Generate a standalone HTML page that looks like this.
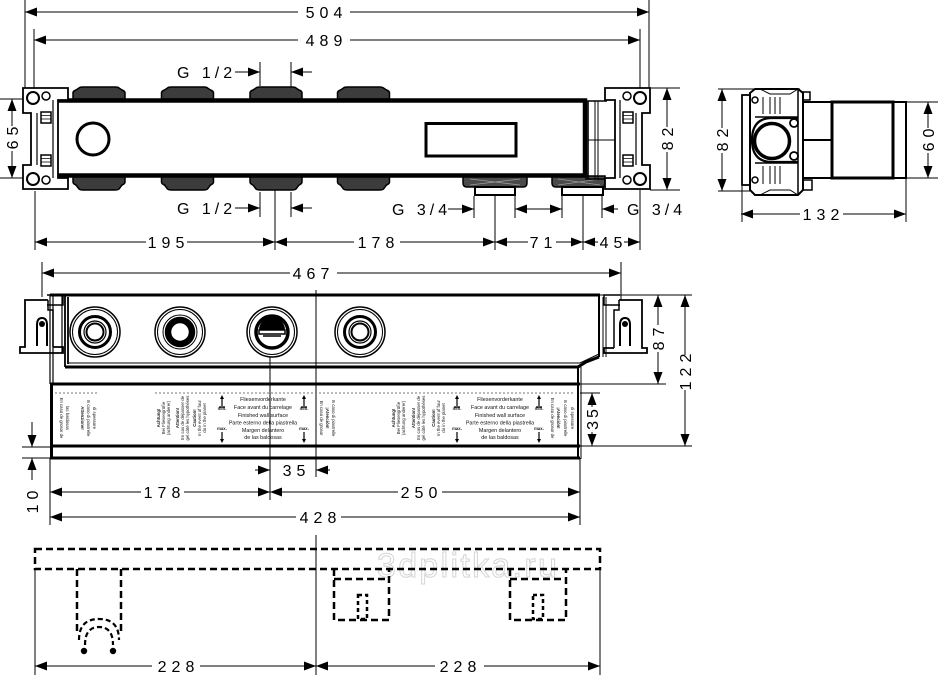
<!DOCTYPE html>
<html><head><meta charset="utf-8"><style>
html,body{margin:0;padding:0;background:#fff;}
svg{display:block;}
.t{font-family:"Liberation Sans",sans-serif;font-size:16px;letter-spacing:5px;fill:#000;}
.g{font-family:"Liberation Sans",sans-serif;font-size:16px;letter-spacing:4px;fill:#000;}
.s{font-family:"Liberation Sans",sans-serif;font-size:5.4px;fill:#111;text-anchor:middle;}
.r{font-family:"Liberation Sans",sans-serif;font-size:4.3px;fill:#222;text-anchor:middle;}
</style></head><body>
<svg width="939" height="675" viewBox="0 0 939 675" xmlns="http://www.w3.org/2000/svg">
<rect width="939" height="675" fill="#fff"/>

<!-- ===== dimension & extension lines ===== -->
<g stroke="#000" stroke-width="1" fill="none">
<!-- top dims -->
<path d="M25,12H298M350,12H649M34,40H298M350,40H640"/>
<path d="M25,0V88M649,0V88M34,29V88M640,29V88"/>
<path d="M235,72H260M291,72H312M235,208H260M291,208H312"/>
<path d="M260,62V86M291,62V87M260,192V217M291,192V217"/>
<path d="M35,242H146M187,242H275M275,242H354M400,242H495M495,242H528M556,242H583M583,242H598M624,242H640"/>
<path d="M35,191V250M275,190V250M495,196V250M583,196V250M640,190V250"/>
<path d="M448,209H474M515,209H562M602,209H618"/>
<path d="M474,196V218M515,196V218M562,196V218M602,196V218"/>
<path d="M667,88V127M667,152V190M650,88H680M650,190H680"/>
<path d="M12,99V126M12,151V178M0,99H23M0,178H23"/>
<!-- side view dims -->
<path d="M722,89V128M722,153V191M718,89H800M718,191H760"/>
<path d="M928,102V128M928,153V178M893,102H938M893,178H938"/>
<path d="M741,214H800M843,214H906M742,186V222M906,178V222"/>
<!-- front view dims -->
<path d="M42,273H290M337,273H621M42,262V297M621,262V300"/>
<path d="M600,295H692M580,384H666M580,446H692M580,393H600"/>
<path d="M658,295V325M658,352V384M685,295V355M685,390V446M592,393V407M592,432V446"/>
<path d="M22,447H52M22,458H52M32,422V447M32,458V480"/>
<path d="M255,470H270M316,470H330"/>
<path d="M50,492H141M184,492H270M270,492H398M442,492H580M50,517H296M341,517H580"/>
<path d="M50,458V525M580,458V525M270,357V500M316,290V477"/>
<!-- bottom view dims -->
<path d="M35,569V675M600,569V675M316,535V675"/>
<path d="M35,666H152M200,666H435M484,666H600"/>
</g>

<!-- arrowheads -->
<g fill="#000">
<polygon points="25,12 37,7.5 37,16.5"/><polygon points="649,12 637,7.5 637,16.5"/>
<polygon points="34,40 46,35.5 46,44.5"/><polygon points="640,40 628,35.5 628,44.5"/>
<polygon points="260,72 248,67.5 248,76.5"/><polygon points="291,72 303,67.5 303,76.5"/>
<polygon points="260,208 248,203.5 248,212.5"/><polygon points="291,208 303,203.5 303,212.5"/>
<polygon points="35,242 47,237.5 47,246.5"/><polygon points="275,242 263,237.5 263,246.5"/>
<polygon points="275,242 287,237.5 287,246.5"/><polygon points="495,242 483,237.5 483,246.5"/>
<polygon points="495,242 507,237.5 507,246.5"/><polygon points="583,242 571,237.5 571,246.5"/>
<polygon points="583,242 595,237.5 595,246.5"/><polygon points="640,242 628,237.5 628,246.5"/>
<polygon points="474,209 462,204.5 462,213.5"/><polygon points="515,209 527,204.5 527,213.5"/>
<polygon points="562,209 550,204.5 550,213.5"/><polygon points="602,209 614,204.5 614,213.5"/>
<polygon points="667,88 662.5,100 671.5,100"/><polygon points="667,190 662.5,178 671.5,178"/>
<polygon points="12,99 7.5,111 16.5,111"/><polygon points="12,178 7.5,166 16.5,166"/>
<polygon points="722,89 717.5,101 726.5,101"/><polygon points="722,191 717.5,179 726.5,179"/>
<polygon points="928,102 923.5,114 932.5,114"/><polygon points="928,178 923.5,166 932.5,166"/>
<polygon points="741,214 753,209.5 753,218.5"/><polygon points="906,214 894,209.5 894,218.5"/>
<polygon points="42,273 54,268.5 54,277.5"/><polygon points="621,273 609,268.5 609,277.5"/>
<polygon points="658,295 653.5,307 662.5,307"/><polygon points="658,384 653.5,372 662.5,372"/>
<polygon points="685,295 680.5,307 689.5,307"/><polygon points="685,446 680.5,434 689.5,434"/>
<polygon points="592,393 587.5,405 596.5,405"/><polygon points="592,446 587.5,434 596.5,434"/>
<polygon points="32,447 27.5,435 36.5,435"/><polygon points="32,458 27.5,470 36.5,470"/>
<polygon points="270,470 258,465.5 258,474.5"/><polygon points="316,470 328,465.5 328,474.5"/>
<polygon points="50,492 62,487.5 62,496.5"/><polygon points="270,492 258,487.5 258,496.5"/>
<polygon points="270,492 282,487.5 282,496.5"/><polygon points="580,492 568,487.5 568,496.5"/>
<polygon points="50,517 62,512.5 62,521.5"/><polygon points="580,517 568,512.5 568,521.5"/>
<polygon points="35,666 47,661.5 47,670.5"/><polygon points="316,666 304,661.5 304,670.5"/>
<polygon points="316,666 328,661.5 328,670.5"/><polygon points="600,666 588,661.5 588,670.5"/>
</g>

<!-- dimension texts -->
<g class="t" text-anchor="middle">
<text x="326.5" y="17.8">504</text>
<text x="326.5" y="45.8">489</text>
<text x="168.5" y="247.8">195</text>
<text x="378.5" y="247.8">178</text>
<text x="543.5" y="247.8">71</text>
<text x="613.5" y="247.8">45</text>
<text x="823.5" y="219.8">132</text>
<text x="313.5" y="278.8">467</text>
<text x="296.5" y="475.8">35</text>
<text x="164.5" y="497.8">178</text>
<text x="421.5" y="497.8">250</text>
<text x="320.5" y="522.8">428</text>
<text x="178.5" y="671.8">228</text>
<text x="460.5" y="671.8">228</text>
<text transform="translate(672.8,136.5) rotate(-90)">82</text>
<text transform="translate(17.8,135.5) rotate(-90)">65</text>
<text transform="translate(727.8,137.5) rotate(-90)">82</text>
<text transform="translate(933.8,137.5) rotate(-90)">60</text>
<text transform="translate(663.8,336.5) rotate(-90)">87</text>
<text transform="translate(690.8,369.5) rotate(-90)">122</text>
<text transform="translate(597.8,418) rotate(-90)" style="letter-spacing:3px">35</text>
<text transform="translate(37.8,499.5) rotate(-90)">10</text>
</g>
<g class="g">
<text x="177" y="77.8">G 1/2</text>
<text x="177" y="213.8">G 1/2</text>
<text x="392" y="214.8">G 3/4</text>
<text x="627" y="214.8">G 3/4</text>
</g>

<!-- ===== TOP VIEW ===== -->
<!-- top ports -->
<g fill="#3c3c3c" stroke="#000" stroke-width="1.5">
<path d="M73,99V93Q73,91 76,90L79,88Q80,87 83,87H115Q118,87 119,88L122,90Q125,91 125,93V99Z"/>
<path d="M161.5,99V93Q161.5,91 164.5,90L167.5,88Q168.5,87 171.5,87H203.5Q206.5,87 207.5,88L210.5,90Q213.5,91 213.5,93V99Z"/>
<path d="M250,99V93Q250,91 253,90L256,88Q257,87 260,87H292Q295,87 296,88L299,90Q302,91 302,93V99Z"/>
<path d="M337.5,99V93Q337.5,91 340.5,90L343.5,88Q344.5,87 347.5,87H379.5Q382.5,87 383.5,88L386.5,90Q389.5,91 389.5,93V99Z"/>
<!-- bottom ports -->
<path d="M73,176V182Q73,184 76,185L79,189Q80,190 83,190H115Q118,190 119,189L122,185Q125,184 125,182V176Z"/>
<path d="M161.5,176V182Q161.5,184 164.5,185L167.5,189Q168.5,190 171.5,190H203.5Q206.5,190 207.5,189L210.5,185Q213.5,184 213.5,182V176Z"/>
<path d="M250,176V182Q250,184 253,185L256,189Q257,190 260,190H292Q295,190 296,189L299,185Q302,184 302,182V176Z"/>
<path d="M337.5,176V182Q337.5,184 340.5,185L343.5,189Q344.5,190 347.5,190H379.5Q382.5,190 383.5,189L386.5,185Q389.5,184 389.5,182V176Z"/>
<path d="M463,176V183Q463,187 467,187H523Q527,187 527,183V176Z" fill="#4a4a4a"/>
<path d="M552,176V183Q552,187 556,187H601Q605,187 605,183V176Z" fill="#4a4a4a"/>
</g>
<g fill="#fff" stroke="#000" stroke-width="2">
<rect x="475" y="187" width="40" height="8"/>
<rect x="562" y="187" width="41" height="8"/>
</g>
<g stroke="#999" stroke-width="0.8">
<path d="M470,179L520,185M470,185L520,179M558,179L600,185M558,185L600,179"/>
</g>
<!-- body -->
<rect x="55" y="100.5" width="530" height="75" fill="#fff" stroke="#000" stroke-width="4.5"/>
<circle cx="93" cy="139" r="16" fill="none" stroke="#000" stroke-width="3"/>
<rect x="426" y="123.5" width="90" height="32.5" fill="none" stroke="#000" stroke-width="3"/>
<g stroke="#000" fill="none">
<path d="M588,101V179M585,101H607M585,179H607" stroke-width="1.6"/>
<path d="M595,101V180M598,101V180M588,140H617" stroke-width="1"/>
</g>
<!-- right bracket -->
<g stroke="#000" fill="#fff" stroke-width="1.8">
<path d="M605,88H650V113H642V165H650V189H605V178H615V100H605Z"/>
<path d="M23,88H68V100H58V178H68V189H23V165H31V113H23Z"/>
</g>
<g stroke="#000" fill="none">
<circle cx="640" cy="98" r="6" stroke-width="2"/><circle cx="627" cy="96" r="4" stroke-width="1.5"/>
<circle cx="640" cy="179" r="6" stroke-width="2"/><circle cx="627" cy="180" r="4" stroke-width="1.5"/>
<circle cx="33" cy="98" r="6" stroke-width="2"/><circle cx="46" cy="96" r="4" stroke-width="1.5"/>
<circle cx="33" cy="179" r="6" stroke-width="2"/><circle cx="46" cy="180" r="4" stroke-width="1.5"/>
<path d="M620,100V178M636,113V165M53,100V178M37,113V165" stroke-width="1.2"/>
<rect x="623" y="112" width="10" height="11" stroke-width="1.5"/><rect x="623" y="155" width="10" height="11" stroke-width="1.5"/>
<rect x="41" y="112" width="10" height="11" stroke-width="1.5"/><rect x="41" y="155" width="10" height="11" stroke-width="1.5"/>
<path d="M623,115.5H633M623,119H633M623,158.5H633M623,162H633M41,115.5H51M41,119H51M41,158.5H51M41,162H51" stroke-width="0.8"/>
</g>

<!-- ===== SIDE VIEW ===== -->
<g stroke="#000" fill="none">
<rect x="742" y="95" width="8" height="90" stroke-width="1.8"/>
<path d="M750,93L755,89H798L803,93V190L798,195H755L750,190Z" stroke-width="2" fill="#fff"/>
<path d="M798,90V195" stroke-width="1.5"/>
<path d="M755,117H798M755,163H798" stroke-width="1.5"/>
<path d="M798,118H772Q752,118 752,140Q752,162 772,162H798" stroke-width="2.2"/>
<circle cx="772" cy="141" r="17.5" stroke-width="3.5"/>
<circle cx="755" cy="100" r="3" stroke-width="1.5"/><circle cx="755" cy="180" r="3" stroke-width="1.5"/>
<circle cx="794" cy="123" r="4" stroke-width="1.8"/><circle cx="794" cy="156" r="4" stroke-width="1.8"/>
<path d="M763,97V114M770,97V114M775,97V114M763,166V184M770,166V184M775,166V184M780,97V114M780,166V184" stroke-width="1"/>
<path d="M760,89L770,94H790L798,89M760,195L770,190H790L798,195" stroke-width="1"/>
<path d="M802,92H810V100H802M802,180H812V190H802" stroke-width="1.5"/>
<path d="M802,102H832M802,178H832M802,140H832" stroke-width="2"/>
<rect x="832" y="102" width="61" height="76" stroke-width="3"/>
<rect x="893" y="102" width="13" height="76" stroke-width="2"/>
</g>

<!-- ===== FRONT VIEW ===== -->
<g stroke="#000" fill="none">
<path d="M50,295H600" stroke-width="3"/>
<path d="M50,295V384M53,295V384M62,295V353" stroke-width="1.2"/>
<path d="M65,295V367M68,297V364" stroke-width="1.8"/>
<path d="M65,367H578L586,362L599,357" stroke-width="3"/>
<path d="M68,363H580L599,354" stroke-width="1"/>
<path d="M599,295V357" stroke-width="2"/>
<path d="M603,297V357M606,297V357" stroke-width="1"/>
<!-- label plate -->
<path d="M50,384H580M50,446H580M50,458H580" stroke-width="3"/>
<path d="M51.5,384V459" stroke-width="3"/>
<path d="M578,367V459" stroke-width="2"/><path d="M581,367V459" stroke-width="1"/>
<path d="M55,393H98M155,393H575" stroke="#777" stroke-width="0.9" stroke-dasharray="2,2"/>
<!-- left bracket -->
<path d="M48,300H25V347H20V353H63V347H53" stroke-width="1.8"/>
<path d="M48,300V310H53V347M47,295H63V305H47" stroke-width="1.5"/>
<path d="M37,346V325Q37,318 42,318Q47,318 47,325V346" stroke-width="2"/>
<circle cx="42" cy="324" r="3" fill="#000" stroke="none"/>
<!-- right bracket -->
<path d="M619,300H642V348H647V353H604V348H614" stroke-width="1.8"/>
<path d="M619,300V310H614V348M620,295H604V305H620" stroke-width="1.5"/>
<path d="M620,346V325Q620,318 625,318Q630,318 630,325V346" stroke-width="2"/>
<circle cx="625" cy="324" r="3" fill="#000" stroke="none"/>
</g>
<!-- valves -->
<g stroke="#000" fill="none">
<circle cx="95" cy="332" r="25" stroke-width="1.5"/><circle cx="95" cy="332" r="22.5" stroke-width="1"/>
<circle cx="95" cy="332" r="15.5" stroke-width="3"/><circle cx="95" cy="332" r="11" stroke-width="1.2"/><circle cx="95" cy="332" r="8.5" stroke-width="2"/>
<circle cx="180" cy="332" r="25" stroke-width="1.5"/><circle cx="180" cy="332" r="22.5" stroke-width="1"/>
<circle cx="180" cy="332" r="17" stroke-width="1"/><circle cx="180" cy="332" r="12" stroke-width="6.5"/>
<circle cx="272" cy="332" r="25" stroke-width="1.5"/><circle cx="272" cy="332" r="22.5" stroke-width="1"/>
<circle cx="272" cy="332" r="16" stroke-width="3.5"/>
<circle cx="360" cy="332" r="25" stroke-width="1.5"/><circle cx="360" cy="332" r="22.5" stroke-width="1"/>
<circle cx="360" cy="332" r="15.5" stroke-width="3"/><circle cx="360" cy="332" r="11" stroke-width="1.2"/><circle cx="360" cy="332" r="8.5" stroke-width="2"/>
</g>
<path d="M259,330A13,13 0 0 1 285,330Z" fill="#000"/>
<rect x="259" y="330" width="26" height="4" fill="#fff" stroke="#000" stroke-width="1.5"/>
<path d="M263,336H281" stroke="#000" stroke-width="1.5"/>

<!-- label text -->
<g class="s">
<text x="263" y="401">Fliesenvorderkante</text>
<text x="263" y="409">Face avant du carrelage</text>
<text x="263" y="417">Finished wall surface</text>
<text x="263" y="424.5">Parte esterno della piastrella</text>
<text x="263" y="432">Margen delantero</text>
<text x="263" y="439">de las baldosas</text>
<text x="500" y="401">Fliesenvorderkante</text>
<text x="500" y="409">Face avant du carrelage</text>
<text x="500" y="417">Finished wall surface</text>
<text x="500" y="424.5">Parte esterno della piastrella</text>
<text x="500" y="432">Margen delantero</text>
<text x="500" y="439">de las baldosas</text>
</g>
<g class="r" font-weight="bold">
<text x="222" y="410">min.</text><text x="222" y="430">max.</text>
<text x="304" y="410">min.</text><text x="304" y="430">max.</text>
<text x="457" y="410">min.</text><text x="457" y="430">max.</text>
<text x="539" y="410">min.</text><text x="539" y="430">max.</text>
</g>
<g stroke="#000" stroke-width="1.2">
<path d="M222,397V406M304,397V406M457,397V406M539,397V406M222,432V441M304,432V441M457,432V441M539,432V441M219,407H225M301,407H307M454,407H460M536,407H542"/>
</g>
<g fill="#000">
<polygon points="222,395 220,399 224,399"/><polygon points="304,395 302,399 306,399"/><polygon points="457,395 455,399 459,399"/><polygon points="539,395 537,399 541,399"/>
<polygon points="222,443 220,439 224,439"/><polygon points="304,443 302,439 306,439"/><polygon points="457,443 455,439 459,439"/><polygon points="539,443 537,439 541,439"/>
</g>
<g class="r">
<text transform="translate(160,418) rotate(-90)" font-weight="bold">Achtung!</text>
<text transform="translate(165,418) rotate(-90)">Bei Fliesengröße</text>
<text transform="translate(170,418) rotate(-90)">(achtung anderer)</text>
<text transform="translate(179,418) rotate(-90)" font-weight="bold">Attention!</text>
<text transform="translate(184,418) rotate(-90)">En cas de dépasser de</text>
<text transform="translate(189,418) rotate(-90)">gel côté les hypothèses</text>
<text transform="translate(196,418) rotate(-90)" font-weight="bold">Caution!</text>
<text transform="translate(201,418) rotate(-90)">In the event of four</text>
<text transform="translate(206,418) rotate(-90)">do in the planet</text>
<text transform="translate(395,418) rotate(-90)" font-weight="bold">Achtung!</text>
<text transform="translate(400,418) rotate(-90)">Bei Fliesengröße</text>
<text transform="translate(405,418) rotate(-90)">(achtung anderer)</text>
<text transform="translate(415,418) rotate(-90)" font-weight="bold">Attention!</text>
<text transform="translate(420,418) rotate(-90)">En cas de dépasser de</text>
<text transform="translate(425,418) rotate(-90)">gel côté les hypothèses</text>
<text transform="translate(435,418) rotate(-90)" font-weight="bold">Caution!</text>
<text transform="translate(440,418) rotate(-90)">In the event of four</text>
<text transform="translate(445,418) rotate(-90)">do in the planet</text>
<text transform="translate(60,418) rotate(90)">En caso de grosor de</text>
<text transform="translate(66,418) rotate(90)">las baldosas</text>
<text transform="translate(81,418) rotate(90)" font-weight="bold">Attenzione!</text>
<text transform="translate(87,418) rotate(90)">In caso di piastrelle</text>
<text transform="translate(93,418) rotate(90)">di spessore</text>
<text transform="translate(320,418) rotate(90)">En caso de grosor</text>
<text transform="translate(326,418) rotate(90)" font-weight="bold">¡Atención!</text>
<text transform="translate(332,418) rotate(90)">In caso di piastrelle</text>
<text transform="translate(551,418) rotate(90)">En caso de grosor de</text>
<text transform="translate(557,418) rotate(90)" font-weight="bold">¡Atención!</text>
<text transform="translate(564,418) rotate(90)">In caso di piastrelle</text>
<text transform="translate(571,418) rotate(90)">di spessore</text>
</g>

<!-- ===== BOTTOM VIEW ===== -->
<text x="377" y="577" font-family="Liberation Sans, sans-serif" font-size="34" letter-spacing="2.3" fill="none" stroke="#d4d4d4" stroke-width="1">3dplitka.ru</text>
<g stroke="#000" fill="none" stroke-width="2.5" stroke-dasharray="7,4">
<rect x="35" y="549" width="565" height="20"/>
<path d="M77,569V635M121,569V635"/>
<path d="M334,569V620H389V569M334,579H389"/>
<rect x="358" y="595" width="9" height="24" stroke-dasharray="4,3"/>
<path d="M510,569V620H566V569M510,579H566"/>
<rect x="533" y="595" width="10" height="24" stroke-dasharray="4,3"/>
</g>
<g stroke="#000" fill="none" stroke-width="2.2" stroke-dasharray="5,3">
<path d="M79,640Q79,619 99,619Q119,619 119,640"/>
<path d="M85,645Q85,627 99,627Q113,627 113,645"/>
</g>
<circle cx="84" cy="651" r="3.2" fill="#000"/><circle cx="113" cy="651" r="3.2" fill="#000"/>
</svg>
</body></html>
